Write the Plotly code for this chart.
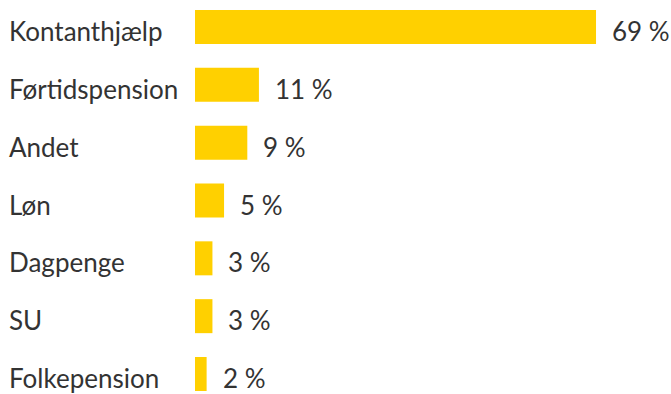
import plotly.graph_objects as go

# Andel fordelt på forsørgelsesgrundlag
categories = ["Kontanthjælp", "Førtidspension", "Andet", "Løn", "Dagpenge", "SU", "Folkepension"]
values = [69, 11, 9, 5, 3, 3, 2]
value_labels = [f"{v} %" for v in values]

BAR_COLOR = "#FFD000"
TEXT_COLOR = "#333333"
FONT = "Lato, 'Open Sans', sans-serif"
FONT_SIZE = 26
LABEL_FONT = dict(family=FONT, size=FONT_SIZE, color=TEXT_COLOR, weight=400)

fig = go.Figure(
    go.Bar(
        x=values,
        y=categories,
        orientation="h",
        marker=dict(color=BAR_COLOR, line=dict(width=0)),
        width=0.588,
        hoverinfo="skip",
    )
)

annotations = []
for cat, val, lab in zip(categories, values, value_labels):
    # category name, left-aligned near the page edge
    annotations.append(dict(
        x=0, xref="paper", y=cat, yref="y",
        text=cat, showarrow=False, xanchor="left", yanchor="middle",
        xshift=-188, yshift=-4, font=LABEL_FONT,
    ))
    # value label just past the bar end
    annotations.append(dict(
        x=val, xref="x", y=cat, yref="y",
        text=lab, showarrow=False, xanchor="left", yanchor="middle",
        xshift=14, yshift=-4, font=LABEL_FONT,
    ))

fig.update_layout(
    width=671, height=394,
    margin=dict(l=195, r=10, t=0, b=0),
    paper_bgcolor="white", plot_bgcolor="white",
    showlegend=False,
    annotations=annotations,
    xaxis=dict(range=[0, 80.18], visible=False, fixedrange=True),
    yaxis=dict(
        type="category", categoryorder="array", categoryarray=categories,
        range=[6.346, -0.467], showticklabels=False, showgrid=False,
        zeroline=False, showline=False, ticks="", fixedrange=True,
    ),
)

fig.write_html("out.html", config={"displayModeBar": False})
